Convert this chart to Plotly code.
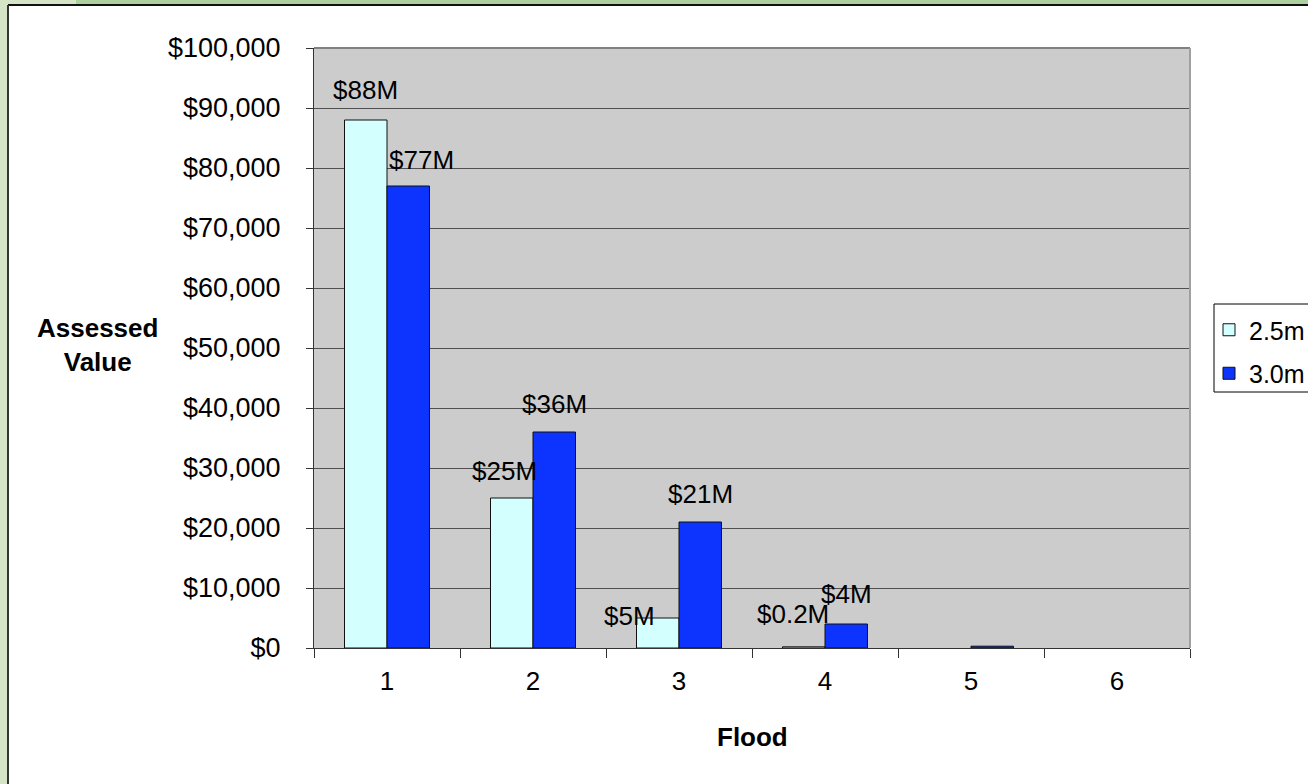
import plotly.graph_objects as go

# Assessed value (thousands of dollars) by flood number, for two flood levels
floods = ["1", "2", "3", "4", "5", "6"]
value_25m = [88000, 25000, 5000, 200, 0, 0]
value_30m = [77000, 36000, 21000, 4000, 300, 0]
labelled_25m = [True, True, True, True, False, False]
labelled_30m = [True, True, True, True, False, False]
series_names = ["2.5m", "3.0m"]
y_ticks = list(range(0, 100001, 10000))
y_tick_text = [f"${v:,}" for v in y_ticks]

W, H = 1308, 784
PL, PR, PT, PB = 314, 1190, 48, 648  # plot area edges in pixels


def px(x):
    return (x - PL) / (PR - PL)


def py(y):
    return (PB - y) / (PB - PT)


def money_label(v):
    return f"${v / 1000:.0f}M" if v >= 1000 else f"${v / 1000:.1f}M"


FONT = "Liberation Sans, Arial, sans-serif"
LIGHT = "#D4FFFF"
BLUE = "#0D33FF"
BARGAP = 0.418

fig = go.Figure()
for i, (name, vals, color) in enumerate([(series_names[0], value_25m, LIGHT),
                                         (series_names[1], value_30m, BLUE)]):
    fig.add_trace(go.Bar(
        x=floods, y=vals, name=name, legendgroup=f"g{i}",
        marker=dict(color=color,
                    line=dict(color="#111111", width=[1 if v > 0 else 0 for v in vals])),
    ))

# value labels above the bars (pixel nudges per label)
bar_half = (1 - BARGAP) / 4
nudges_25m = [(0, 30), (-7, 27), (-28, 2), (-11, 33), (0, 0), (0, 0)]
nudges_30m = [(13, 26), (0, 28), (0, 28), (0, 30), (0, 0), (0, 0)]
annotations = []
for vals, show, nudges, sign in [(value_25m, labelled_25m, nudges_25m, -1),
                                 (value_30m, labelled_30m, nudges_30m, 1)]:
    for idx, (v, s, (dx, dy)) in enumerate(zip(vals, show, nudges)):
        if not s:
            continue
        annotations.append(dict(
            x=idx + sign * bar_half, y=v, xref="x", yref="y",
            text=money_label(v), showarrow=False,
            xanchor="center", yanchor="middle",
            xshift=dx, yshift=dy,
            font=dict(family=FONT, size=26, color="#000000"),
        ))

# axis titles
annotations.append(dict(
    x=px(97), y=py(345), xref="paper", yref="paper",
    text="<b>Assessed<br>Value</b>", showarrow=False,
    xanchor="center", yanchor="middle", align="center",
    font=dict(family=FONT, size=26, color="#000000"),
))
annotations.append(dict(
    x=px(752), y=py(737), xref="paper", yref="paper",
    text="<b>Flood</b>", showarrow=False,
    xanchor="center", yanchor="middle",
    font=dict(family=FONT, size=26, color="#000000"),
))

shapes = [
    # light green page strip down the left side and along the top
    dict(type="rect", xref="paper", yref="paper", layer="below",
         x0=px(-10), x1=px(8), y0=py(800), y1=py(-10),
         fillcolor="#D5E4C6", line=dict(width=0)),
    dict(type="rect", xref="paper", yref="paper", layer="below",
         x0=px(-10), x1=px(76), y0=py(5), y1=py(-10),
         fillcolor="#D5E4C6", line=dict(width=0)),
    dict(type="rect", xref="paper", yref="paper", layer="below",
         x0=px(76), x1=px(1320), y0=py(5), y1=py(-10),
         fillcolor="#AECF9E", line=dict(width=0)),
    # dark frame on top/left of the chart area
    dict(type="line", xref="paper", yref="paper", layer="above",
         x0=px(8), x1=px(1320), y0=py(5), y1=py(5),
         line=dict(color="#111111", width=2)),
    dict(type="line", xref="paper", yref="paper", layer="above",
         x0=px(8), x1=px(8), y0=py(5), y1=py(800),
         line=dict(color="#333333", width=2)),
    # plot area outline (top/right)
    dict(type="line", xref="paper", yref="paper", layer="above",
         x0=0, x1=1, y0=1, y1=1, line=dict(color="#808080", width=2)),
    dict(type="line", xref="paper", yref="paper", layer="above",
         x0=1, x1=1, y0=0, y1=1, line=dict(color="#A0A0A0", width=2)),
    # legend frame
    dict(type="rect", xref="paper", yref="paper", layer="above",
         x0=px(1214), x1=px(1330), y0=py(392), y1=py(304),
         line=dict(color="#000000", width=1)),
]

fig.update_layout(
    width=W, height=H,
    margin=dict(l=PL, r=W - PR, t=PT, b=H - PB, autoexpand=False),
    paper_bgcolor="#FFFFFF",
    plot_bgcolor="#CCCCCC",
    barmode="group", bargap=BARGAP, bargroupgap=0,
    font=dict(family=FONT, size=26, color="#000000"),
    showlegend=True,
    legend=dict(
        x=px(1209), y=py(307), xanchor="left", yanchor="top",
        bgcolor="rgba(255,255,255,0)", borderwidth=0,
        font=dict(family=FONT, size=25, color="#000000"),
        tracegroupgap=8,
    ),
    annotations=annotations,
    shapes=shapes,
    xaxis=dict(
        type="category", tickson="boundaries",
        ticks="outside", ticklen=9, tickcolor="#333333",
        showline=True, linecolor="#333333", linewidth=1,
        showgrid=False, zeroline=False,
        tickfont=dict(family=FONT, size=26, color="#000000"),
        ticklabelstandoff=10,
    ),
    yaxis=dict(
        range=[0, 100000], tickmode="array", tickvals=y_ticks, ticktext=y_tick_text,
        ticks="outside", ticklen=7, tickcolor="#333333",
        showline=True, linecolor="#333333", linewidth=1,
        showgrid=True, gridcolor="#505050", gridwidth=1,
        zeroline=False,
        tickfont=dict(family=FONT, size=27, color="#000000"),
        ticklabelstandoff=20,
    ),
)

fig.write_html("out.html")
